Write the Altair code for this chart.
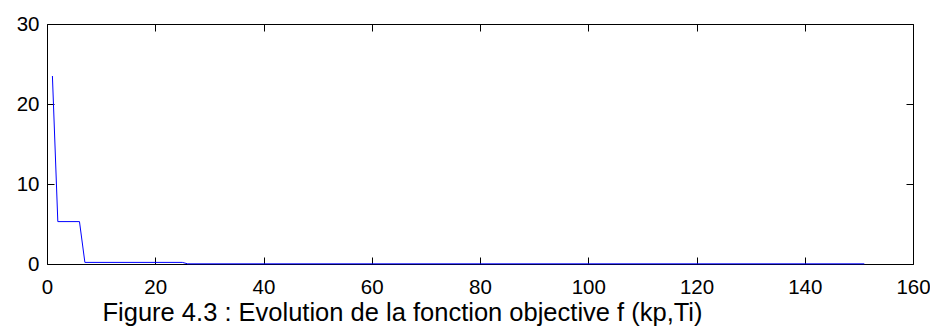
import altair as alt
import pandas as pd

# ---- data ----
iterations = [1, 2, 6, 7, 25, 26, 151]
objective = [23.5, 5.3, 5.3, 0.2, 0.2, 0.02, 0.02]
x_ticks = [0, 20, 40, 60, 80, 100, 120, 140, 160]
y_ticks = [0, 10, 20, 30]
caption = "Figure 4.3 : Evolution de la fonction objective f (kp,Ti)"

df = pd.DataFrame({"iteration": iterations, "f": objective})

W, H = 866, 240
FONT = "Liberation Sans"

xs = alt.Scale(domain=[0, 160], nice=False, zero=False)
ys = alt.Scale(domain=[0, 30], nice=False, zero=False)


def layer(xaxis, yaxis, visible):
    return alt.Chart(df).mark_line(
        color="#0000ff", strokeWidth=1, strokeOpacity=1 if visible else 0
    ).encode(
        x=alt.X("iteration:Q", scale=xs, axis=xaxis),
        y=alt.Y("f:Q", scale=ys, axis=yaxis),
    )


lab = dict(
    grid=False, labelFlush=False, labelOverlap=False, labelFont=FONT,
    labelFontSize=20.5, labelColor="black", domainColor="black",
    domainWidth=1, ticks=False,
)
tk = dict(
    grid=False, labels=False, ticks=True, tickSize=7, tickColor="black",
    tickWidth=1, title=None, domainColor="black", domainWidth=1,
)

# main axes: labels + domain (left / bottom), caption as x-axis title
l1 = layer(
    alt.Axis(orient="bottom", values=x_ticks, labelPadding=13, domain=True,
             title=caption, titleFont=FONT, titleFontSize=25.5,
             titleFontWeight="normal", titleColor="black", titleX=55,
             titleY=56, titleAlign="left", titleBaseline="alphabetic",
             titleAngle=0, **lab),
    alt.Axis(orient="left", values=y_ticks, labelPadding=8, domain=True,
             title=None, **lab),
    True,
)
# inward ticks on bottom and left edges
l2 = layer(
    alt.Axis(orient="top", offset=-H, values=x_ticks, domain=False, **tk),
    alt.Axis(orient="right", offset=-W, values=y_ticks, domain=False, **tk),
    False,
)
# top and right borders with inward ticks
l3 = layer(
    alt.Axis(orient="bottom", offset=-H, values=x_ticks, domain=True, **tk),
    alt.Axis(orient="left", offset=-W, values=y_ticks, domain=True, **tk),
    False,
)

chart = (
    alt.layer(l3, l2, l1)
    .resolve_axis(x="independent", y="independent")
    .properties(
        width=W, height=H,
        autosize=alt.AutoSizeParams(type="none"),
        padding={"left": 39, "top": 16, "right": 17, "bottom": 62},
    )
    .configure_view(stroke=None)
)

chart.save("out.html", embed_options={"renderer": "svg", "actions": False})
